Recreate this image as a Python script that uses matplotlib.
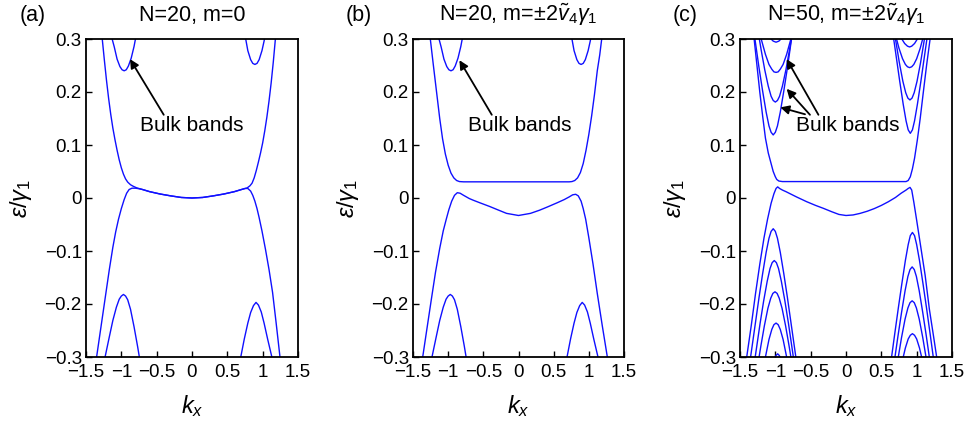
import matplotlib
matplotlib.use("Agg")
import matplotlib.pyplot as plt

plt.rcParams['font.family'] = ['Liberation Sans', 'DejaVu Sans']
plt.rcParams['mathtext.fontset'] = 'custom'
plt.rcParams['mathtext.rm'] = 'Liberation Sans'
plt.rcParams['mathtext.it'] = 'Liberation Sans:italic'
plt.rcParams['mathtext.bf'] = 'Liberation Sans:bold'

# ---------------- tick values / labels ----------------
x_ticks = [-1.5, -1.0, -0.5, 0.0, 0.5, 1.0, 1.5]
x_tick_labels = ['\u22121.5', '\u22121', '\u22120.5', '0', '0.5', '1', '1.5']
y_ticks = [-0.3, -0.2, -0.1, 0.0, 0.1, 0.2, 0.3]
y_tick_labels = ['\u22120.3', '\u22120.2', '\u22120.1', '0', '0.1', '0.2', '0.3']

panel_letters = ['(a)', '(b)', '(c)']
panel_titles = ['N=20, m=0',
                'N=20, m=\u00b12$\\tilde{v}_4\\gamma_1$',
                'N=50, m=\u00b12$\\tilde{v}_4\\gamma_1$']

# ---------------- bulk bands, N=20 (panels a, b) ----------------
bulk20_upL_k = [-1.13, -1.10, -1.06, -1.02, -0.99, -0.96, -0.93, -0.90, -0.86, -0.82, -0.80]
bulk20_upL_e = [0.300, 0.285, 0.262, 0.248, 0.242, 0.240, 0.242, 0.249, 0.264, 0.286, 0.300]
bulk20_upR_k = [0.76, 0.79, 0.83, 0.86, 0.89, 0.92, 0.95, 0.99, 1.02, 1.04]
bulk20_upR_e = [0.300, 0.278, 0.261, 0.254, 0.252, 0.254, 0.261, 0.278, 0.296, 0.311]
bulk20_dnL_k = [-1.23, -1.17, -1.12, -1.07, -1.03, -1.00, -0.97, -0.94, -0.91, -0.87, -0.82, -0.77, -0.745]
bulk20_dnL_e = [-0.300, -0.262, -0.231, -0.206, -0.191, -0.185, -0.182, -0.185, -0.192, -0.210, -0.243, -0.280, -0.300]
bulk20_dnR_k = [0.69, 0.74, 0.79, 0.83, 0.87, 0.906, 0.94, 0.98, 1.02, 1.07, 1.13]
bulk20_dnR_e = [-0.300, -0.266, -0.236, -0.216, -0.203, -0.197, -0.202, -0.215, -0.236, -0.266, -0.300]

# ---------------- panel (a): edge bands, m=0 ----------------
a_upper_k = [-1.27, -1.24, -1.21, -1.18, -1.15, -1.12, -1.09, -1.06, -1.03, -1.00, -0.97, -0.94,
             -0.91, -0.87, -0.83, -0.78, -0.70, -0.60, -0.45, -0.30, -0.15, 0.0, 0.15, 0.30,
             0.45, 0.60, 0.70, 0.78, 0.82, 0.85, 0.88, 0.91, 0.94, 0.97, 1.00, 1.03, 1.06,
             1.09, 1.12, 1.15, 1.18]
a_upper_e = [0.300, 0.260, 0.222, 0.188, 0.158, 0.132, 0.110, 0.090, 0.072, 0.057, 0.045, 0.036,
             0.030, 0.025, 0.022, 0.019, 0.016, 0.012, 0.0075, 0.004, 0.001, 0.0, 0.001, 0.004,
             0.0075, 0.012, 0.016, 0.019, 0.023, 0.028, 0.038, 0.052, 0.068, 0.085, 0.104, 0.127,
             0.153, 0.183, 0.217, 0.256, 0.300]
a_lower_k = [-1.35, -1.29, -1.23, -1.17, -1.12, -1.08, -1.04, -1.00, -0.96, -0.925, -0.89, -0.85,
             -0.80, -0.75, -0.70, -0.60, -0.45, -0.30, -0.15, 0.0, 0.15, 0.30, 0.45, 0.60, 0.70,
             0.75, 0.79, 0.83, 0.86, 0.89, 0.92, 0.95, 0.99, 1.04, 1.09, 1.14, 1.19, 1.245]
a_lower_e = [-0.300, -0.245, -0.190, -0.135, -0.093, -0.064, -0.040, -0.020, -0.003, 0.009, 0.016,
             0.0185, 0.0185, 0.0175, 0.016, 0.012, 0.0075, 0.004, 0.001, 0.0, 0.001, 0.004, 0.0075,
             0.012, 0.016, 0.018, 0.018, 0.013, 0.005, -0.006, -0.020, -0.037, -0.062, -0.097,
             -0.135, -0.178, -0.235, -0.300]

# ---------------- panel (b): edge bands, m=+-2 v4 g1 ----------------
b_upper_k = [-1.254, -1.21, -1.165, -1.12, -1.08, -1.04, -1.00, -0.96, -0.92, -0.88, -0.84, -0.78,
             0.0, 0.72, 0.76, 0.80, 0.84, 0.88, 0.92, 0.96, 1.00, 1.04, 1.08, 1.12, 1.155, 1.183]
b_upper_e = [0.300, 0.250, 0.200, 0.150, 0.112, 0.083, 0.062, 0.047, 0.038, 0.033, 0.031, 0.0305,
             0.0305, 0.0305, 0.031, 0.033, 0.038, 0.048, 0.065, 0.090, 0.120, 0.155, 0.195, 0.240,
             0.270, 0.300]
b_lower_k = [-1.362, -1.30, -1.24, -1.18, -1.12, -1.07, -1.027, -0.99, -0.95, -0.91, -0.87, -0.83,
             -0.78, -0.70, -0.647, -0.55, -0.41, -0.30, -0.17, 0.0, 0.17, 0.30, 0.41, 0.55, 0.65,
             0.72, 0.77, 0.813, 0.85, 0.89, 0.92, 0.955, 1.00, 1.06, 1.12, 1.19, 1.263]
b_lower_e = [-0.300, -0.245, -0.192, -0.140, -0.095, -0.062, -0.040, -0.022, -0.006, 0.005, 0.010,
             0.009, 0.005, -0.001, -0.004, -0.009, -0.016, -0.022, -0.029, -0.033, -0.029, -0.023,
             -0.017, -0.009, -0.003, 0.002, 0.006, 0.007, 0.004, -0.006, -0.020, -0.040, -0.075,
             -0.125, -0.180, -0.240, -0.300]

# ---------------- panel (c): N=50 ----------------
c_upper_k = [-1.30, -1.26, -1.22, -1.18, -1.14, -1.10, -1.06, -1.03, -1.00, -0.98, -0.95, -0.90,
             0.0, 0.85, 0.88, 0.91, 0.94, 0.97, 1.01, 1.05, 1.09, 1.14, 1.19]
c_upper_e = [0.300, 0.250, 0.200, 0.155, 0.113, 0.085, 0.065, 0.050, 0.040, 0.035, 0.032, 0.031,
             0.031, 0.031, 0.033, 0.040, 0.055, 0.075, 0.110, 0.150, 0.195, 0.250, 0.300]
c_lower_k = [-1.405, -1.34, -1.28, -1.22, -1.16, -1.11, -1.06, -1.02, -0.99, -0.967, -0.94, -0.90,
             -0.85, -0.79, -0.70, -0.556, -0.43, -0.32, -0.20, -0.10, 0.0, 0.10, 0.20, 0.30, 0.40,
             0.50, 0.60, 0.70, 0.78, 0.85, 0.88, 0.906, 0.93, 0.96, 1.00, 1.06, 1.12, 1.18, 1.24,
             1.283]
c_lower_e = [-0.300, -0.240, -0.180, -0.125, -0.075, -0.040, -0.010, 0.008, 0.018, 0.021, 0.018,
             0.015, 0.012, 0.008, 0.002, -0.007, -0.014, -0.0195, -0.026, -0.031, -0.033, -0.032,
             -0.029, -0.025, -0.020, -0.014, -0.007, 0.001, 0.009, 0.015, 0.018, 0.020, 0.015,
             -0.008, -0.042, -0.094, -0.146, -0.210, -0.262, -0.300]

# upper bulk subbands, left valley
c_upL1_k = [-1.29, -1.23, -1.18, -1.13, -1.09, -1.06, -1.03, -1.00, -0.97, -0.93, -0.88, -0.83, -0.77]
c_upL1_e = [0.301, 0.245, 0.202, 0.162, 0.136, 0.124, 0.119, 0.124, 0.136, 0.162, 0.202, 0.245, 0.301]
c_upL2_k = [-1.23, -1.20, -1.15, -1.10, -1.06, -1.03, -1.00, -0.97, -0.94, -0.90, -0.85, -0.80, -0.77]
c_upL2_e = [0.303, 0.279, 0.242, 0.211, 0.192, 0.184, 0.181, 0.184, 0.192, 0.211, 0.242, 0.279, 0.303]
c_upL3_k = [-1.20, -1.14, -1.09, -1.05, -1.02, -0.99, -0.96, -0.93, -0.89, -0.84, -0.78]
c_upL3_e = [0.300, 0.271, 0.252, 0.243, 0.238, 0.237, 0.238, 0.243, 0.252, 0.271, 0.300]
c_upL4_k = [-1.06, -1.03, -0.99, -0.95, -0.92]
c_upL4_e = [0.300, 0.296, 0.294, 0.296, 0.300]
# upper bulk subbands, right valley
c_upR1_k = [0.675, 0.72, 0.76, 0.81, 0.85, 0.88, 0.91, 0.94, 0.97, 1.01, 1.06, 1.10, 1.145]
c_upR1_e = [0.300, 0.258, 0.2205, 0.1765, 0.1455, 0.1286, 0.122, 0.1286, 0.1455, 0.1765, 0.2205, 0.258, 0.300]
c_upR2_k = [0.70, 0.755, 0.805, 0.845, 0.875, 0.905, 0.935, 0.965, 1.005, 1.055, 1.11]
c_upR2_e = [0.300, 0.2553, 0.2201, 0.1987, 0.1886, 0.185, 0.1886, 0.1987, 0.2201, 0.2553, 0.300]
c_upR3_k = [0.715, 0.75, 0.80, 0.84, 0.87, 0.90, 0.93, 0.96, 1.00, 1.05, 1.085]
c_upR3_e = [0.300, 0.2825, 0.2628, 0.2521, 0.2476, 0.246, 0.2476, 0.2521, 0.2628, 0.2825, 0.300]
c_upR4_k = [0.79, 0.83, 0.87, 0.90, 0.93, 0.97, 1.01]
c_upR4_e = [0.300, 0.2915, 0.2865, 0.285, 0.2865, 0.2915, 0.300]
# lower bulk subbands, left valley
c_dnL1_k = [-1.35, -1.28, -1.23, -1.18, -1.13, -1.09, -1.06, -1.03, -1.00, -0.97, -0.93, -0.88, -0.83, -0.78, -0.71]
c_dnL1_e = [-0.300, -0.234, -0.187, -0.143, -0.1025, -0.076, -0.063, -0.058, -0.063, -0.076, -0.1025, -0.143, -0.187, -0.234, -0.300]
c_dnL2_k = [-1.285, -1.215, -1.165, -1.115, -1.075, -1.045, -1.015, -0.985, -0.955, -0.915, -0.865, -0.815, -0.745]
c_dnL2_e = [-0.300, -0.236, -0.194, -0.157, -0.133, -0.122, -0.118, -0.122, -0.133, -0.157, -0.194, -0.236, -0.300]
c_dnL3_k = [-1.23, -1.205, -1.155, -1.105, -1.065, -1.035, -1.005, -0.975, -0.945, -0.905, -0.855, -0.805, -0.78]
c_dnL3_e = [-0.300, -0.2795, -0.241, -0.208, -0.189, -0.180, -0.177, -0.180, -0.189, -0.208, -0.241, -0.2795, -0.300]
c_dnL4_k = [-1.14, -1.09, -1.05, -1.02, -0.99, -0.96, -0.93, -0.89, -0.84]
c_dnL4_e = [-0.300, -0.267, -0.248, -0.239, -0.236, -0.239, -0.248, -0.267, -0.300]
c_dnL5_k = [-1.01, -0.99, -0.967, -0.945, -0.925]
c_dnL5_e = [-0.302, -0.297, -0.294, -0.297, -0.302]
# lower bulk subbands, right valley
c_dnR1_k = [0.645, 0.69, 0.74, 0.79, 0.84, 0.88, 0.91, 0.94, 0.97, 1.00, 1.04, 1.09, 1.14, 1.19, 1.235]
c_dnR1_e = [-0.300, -0.256, -0.208, -0.162, -0.118, -0.088, -0.071, -0.065, -0.071, -0.088, -0.118, -0.162, -0.208, -0.256, -0.300]
c_dnR2_k = [0.693, 0.736, 0.786, 0.836, 0.876, 0.906, 0.936, 0.966, 0.996, 1.036, 1.086, 1.136, 1.179]
c_dnR2_e = [-0.300, -0.260, -0.216, -0.175, -0.148, -0.135, -0.130, -0.135, -0.148, -0.175, -0.216, -0.260, -0.300]
c_dnR3_k = [0.74, 0.786, 0.836, 0.876, 0.906, 0.936, 0.966, 0.996, 1.036, 1.086, 1.132]
c_dnR3_e = [-0.300, -0.2632, -0.2284, -0.2074, -0.1975, -0.194, -0.1975, -0.2074, -0.2284, -0.2632, -0.300]
c_dnR4_k = [0.81, 0.84, 0.88, 0.91, 0.94, 0.97, 1.00, 1.04, 1.07]
c_dnR4_e = [-0.300, -0.283, -0.266, -0.259, -0.256, -0.259, -0.266, -0.283, -0.300]

panel_curves = [
    [(bulk20_upL_k, bulk20_upL_e), (bulk20_upR_k, bulk20_upR_e),
     (bulk20_dnL_k, bulk20_dnL_e), (bulk20_dnR_k, bulk20_dnR_e),
     (a_upper_k, a_upper_e), (a_lower_k, a_lower_e)],
    [(bulk20_upL_k, bulk20_upL_e), (bulk20_upR_k, bulk20_upR_e),
     (bulk20_dnL_k, bulk20_dnL_e), (bulk20_dnR_k, bulk20_dnR_e),
     (b_upper_k, b_upper_e), (b_lower_k, b_lower_e)],
    [(c_upper_k, c_upper_e), (c_lower_k, c_lower_e),
     (c_upL1_k, c_upL1_e), (c_upL2_k, c_upL2_e), (c_upL3_k, c_upL3_e), (c_upL4_k, c_upL4_e),
     (c_upR1_k, c_upR1_e), (c_upR2_k, c_upR2_e), (c_upR3_k, c_upR3_e), (c_upR4_k, c_upR4_e),
     (c_dnL1_k, c_dnL1_e), (c_dnL2_k, c_dnL2_e), (c_dnL3_k, c_dnL3_e), (c_dnL4_k, c_dnL4_e),
     (c_dnL5_k, c_dnL5_e),
     (c_dnR1_k, c_dnR1_e), (c_dnR2_k, c_dnR2_e), (c_dnR3_k, c_dnR3_e), (c_dnR4_k, c_dnR4_e)],
]

annot_text = 'Bulk bands'
annot_text_pos = [(0.0, 0.136), (0.02, 0.136), (0.03, 0.136)]
annot_arrows = [
    [((-0.40, 0.157), (-0.877, 0.262))],
    [((-0.38, 0.157), (-0.84, 0.260))],
    [((-0.39, 0.157), (-0.84, 0.262)),
     ((-0.51, 0.157), (-0.84, 0.206)),
     ((-0.58, 0.158), (-0.93, 0.171))],
]

W, H = 967, 424
fig = plt.figure(figsize=(W / 100, H / 100), dpi=100)

axes_px = [(86, 298), (413, 624), (740, 952)]
top_px, bot_px = 39, 357

for i, (x0, x1) in enumerate(axes_px):
    ax = fig.add_axes([x0 / W, (H - bot_px) / H, (x1 - x0) / W, (bot_px - top_px) / H])
    for k, e in panel_curves[i]:
        ax.plot(k, e, color='#1010ff', lw=1.0, solid_joinstyle='round')
    ax.set_xlim(-1.5, 1.5)
    ax.set_ylim(-0.3, 0.3)
    ax.set_xticks(x_ticks)
    ax.set_xticklabels(x_tick_labels)
    ax.set_yticks(y_ticks)
    ax.set_yticklabels(y_tick_labels)
    ax.tick_params(direction='in', length=4, width=1.0, labelsize=13.5, pad=3,
                   top=False, right=False)
    ax.tick_params(axis='x', pad=5)
    for s in ax.spines.values():
        s.set_linewidth(1.3)
    ax.set_xlabel('$k_x$', fontsize=17)
    ax.xaxis.set_label_coords(0.5, -0.115)
    ax.set_ylabel('$\\varepsilon/\\gamma_1$', fontsize=17)
    ax.yaxis.set_label_coords(-0.245, 0.5)
    ax.text(0.5, 1.0 + 24 / 318, panel_titles[i], transform=ax.transAxes,
            ha='center', va='center', fontsize=15.5)
    fig.text((x0 - 66) / W if i == 0 else (x0 - 67) / W, 1 - 15 / H, panel_letters[i],
             ha='left', va='center', fontsize=15.5)
    tx, ty = annot_text_pos[i]
    ax.text(tx, ty, annot_text, ha='center', va='center', fontsize=15)
    for tail, head in annot_arrows[i]:
        ax.annotate('', xy=head, xytext=tail,
                    arrowprops=dict(arrowstyle='-|>', color='black', lw=1.3,
                                    mutation_scale=13, shrinkA=0, shrinkB=0))

fig.savefig('out.png', dpi=100)
